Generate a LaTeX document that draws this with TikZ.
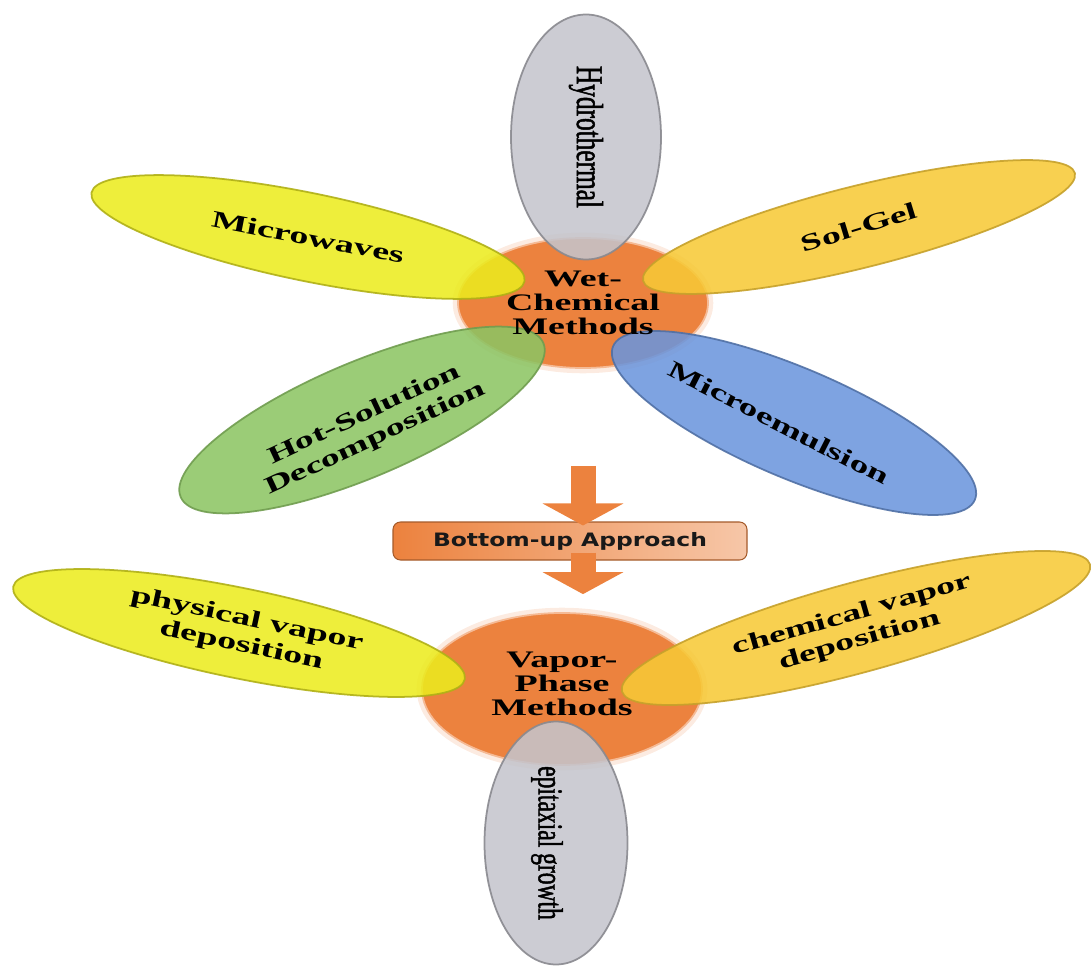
\documentclass[tikz,border=0pt]{standalone}
\usepackage{fontspec}
\setmainfont{Liberation Serif}
\newfontfamily\widefont[FakeStretch=1.6]{Liberation Serif}
\newfontfamily\tallfont[FakeStretch=0.67, FakeBold=1.3]{Liberation Serif}
\newfontfamily\boxfont[FakeStretch=1.27]{DejaVu Sans}
\usetikzlibrary{shapes.geometric, arrows.meta}

\definecolor{petalyellow}{HTML}{EBEB1E}
\definecolor{petalgold}{HTML}{F7C936}
\definecolor{petalgreen}{HTML}{8CC463}
\definecolor{petalblue}{HTML}{6B95DC}
\definecolor{petalgray}{HTML}{C4C4CC}
\definecolor{huborange}{HTML}{EC823E}

\tikzset{
  petal/.style={ellipse, inner sep=0pt, line width=1pt, fill opacity=0.87, draw opacity=0.9},
  yellowpetal/.style={petal, fill=petalyellow, draw=petalyellow!75!black},
  goldpetal/.style={petal, fill=petalgold, draw=petalgold!80!black},
  greenpetal/.style={petal, fill=petalgreen, draw=petalgreen!80!black},
  bluepetal/.style={petal, fill=petalblue, draw=petalblue!75!black},
  graypetal/.style={petal, fill=petalgray, draw=petalgray!70!black},
  hub/.style={ellipse, inner sep=0pt, fill=huborange, draw=huborange!55!white, line width=1pt,
    preaction={draw=huborange!45!white, line width=6pt, draw opacity=0.35}},
  hubtext/.style={font=\widefont\bfseries\fontsize{13.5}{13.7}\selectfont, align=center},
  petaltext/.style={font=\widefont\bfseries\fontsize{13.5}{15}\selectfont, align=center},
  uptext/.style={font=\tallfont\fontsize{21.5}{24}\selectfont, rotate=-90},
  bigarrow/.style={draw=huborange, line width=0.5cm, -{Triangle[width=1.6cm, length=0.44cm]}},
  approachbox/.style={rounded corners=0.15cm, left color=huborange, right color=huborange!45!white,
    draw=huborange!70!black, line width=0.6pt, minimum width=7.08cm, minimum height=0.76cm,
    font=\boxfont\bfseries\fontsize{10.5}{12}\selectfont, text=black!90}
}

\begin{document}
\begin{tikzpicture}
\useasboundingbox (0,0) rectangle (21.82,-19.32);

\node[hub, minimum width=5cm, minimum height=2.6cm] (wet) at (11.66,-6.06) {};
\node[graypetal, minimum width=3cm, minimum height=4.9cm] (hydro) at (11.72,-2.74) {};
\node[yellowpetal, rotate=-11.6, minimum width=8.84cm, minimum height=1.76cm] (microwaves) at (6.16,-4.74) {};
\node[goldpetal, rotate=14, minimum width=8.9cm, minimum height=1.64cm] (solgel) at (17.18,-4.54) {};
\node[greenpetal, rotate=23, minimum width=7.88cm, minimum height=2.3cm] (hotsol) at (7.24,-8.4) {};
\node[bluepetal, rotate=-23, minimum width=7.86cm, minimum height=2.2cm] (emulsion) at (15.88,-8.46) {};

\node[hubtext] (wettext) at (wet) {Wet-\\Chemical\\Methods};
\node[uptext] (hydrotext) at (hydro) {Hydrothermal};
\node[petaltext, rotate=-11] (microtext) at (microwaves) {Microwaves};
\node[petaltext, rotate=17] (solgeltext) at (solgel) {Sol-Gel};
\node[petaltext, rotate=25] (hotsoltext) at ([shift={(0.16,-0.14)}]hotsol) {Hot-Solution\\Decomposition};
\node[petaltext, rotate=-27] (emulsiontext) at ([xshift=-0.3cm]emulsion) {Microemulsion};

\node[approachbox] (bottomup) at (11.4,-10.82) {Bottom-up Approach};

\node[hub, minimum width=5.6cm, minimum height=3.04cm] (vapor) at (11.24,-13.78) {};
\node[yellowpetal, rotate=-11.6, minimum width=9.22cm, minimum height=1.8cm] (physical) at (4.78,-12.66) {};
\node[goldpetal, rotate=15.2, minimum width=9.7cm, minimum height=1.8cm] (chemical) at (17.12,-12.56) {};
\node[graypetal, minimum width=2.86cm, minimum height=4.86cm] (epitaxial) at (11.12,-16.86) {};

\node[hubtext] (vaportext) at ([yshift=0.1cm]vapor) {Vapor-\\Phase\\Methods};
\node[petaltext, rotate=-12] (physicaltext) at ([xshift=0.1cm]physical) {physical vapor\\deposition};
\node[petaltext, rotate=16] (chemicaltext) at (chemical) {chemical vapor\\deposition};
\node[uptext, font=\tallfont\fontsize{20}{22}\selectfont] (epitaxialtext) at ([xshift=-0.18cm]epitaxial) {epitaxial growth};

\draw[bigarrow, shorten <=1.94cm, shorten >=-0.08cm] (wet.south) -- (wet.south |- bottomup.north);
\draw[bigarrow, shorten <=-0.16cm, shorten >=0.36cm] (wet.south |- bottomup.south) -- (wet.south |- vapor.north);
\end{tikzpicture}
\end{document}
